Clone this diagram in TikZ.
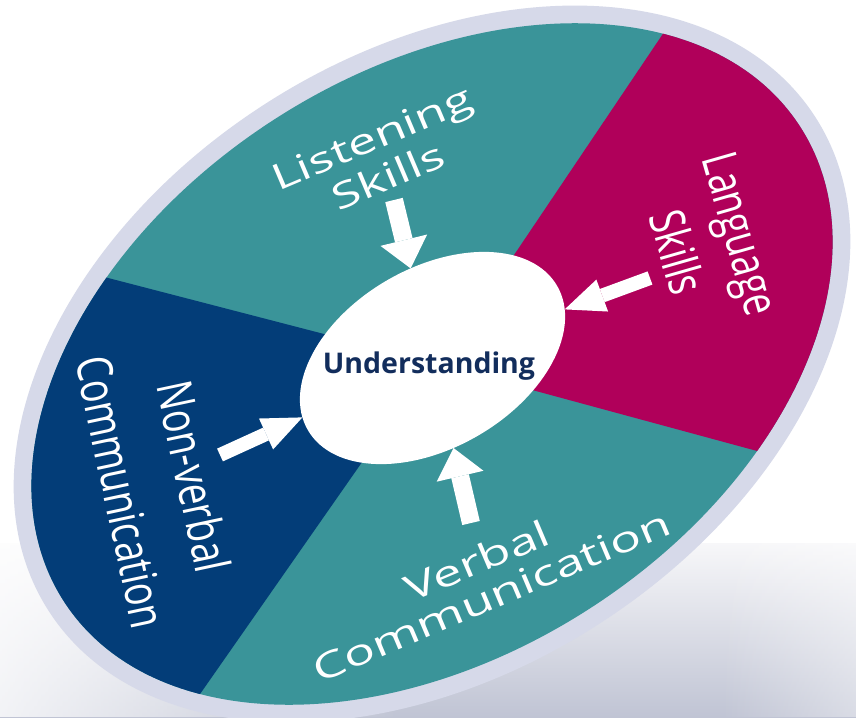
\documentclass[tikz,border=0pt]{standalone}
\usepackage{fontspec}
\setmainfont{Open Sans}
\usetikzlibrary{arrows.meta,shapes.geometric,fadings}

\definecolor{wheelteal}{RGB}{58,148,153}
\definecolor{wheelplum}{RGB}{176,0,90}
\definecolor{wheelnavy}{RGB}{3,61,120}
\definecolor{rimgrey}{RGB}{214,217,233}
\definecolor{inknavy}{RGB}{18,45,92}
\definecolor{bandtop}{RGB}{247,247,249}
\definecolor{bandbottom}{RGB}{192,196,212}

\tikzset{
  sectorlabel/.style={text=white, align=center, inner sep=0pt},
  steeparrow/.style={draw=white, line width=18pt,
    -{Triangle[width=48pt,length=29pt,line width=0pt]}},
  flatarrow/.style={draw=white, line width=14pt,
    -{Triangle[width=34pt,length=40pt,line width=0pt]}},
}

\begin{document}
\begin{tikzpicture}[x=1pt,y=-1pt]
\useasboundingbox (0,0) rectangle (856,717);
\clip (0,0) rectangle (856,717);
\fill[white] (0,0) rectangle (856,717);

% soft floor reflection below the disc
\shade[top color=bandtop, bottom color=bandbottom] (0,543) rectangle (856,717);
\fill[white, path fading=east, fill opacity=0.8] (0,543) rectangle (400,717);
\fill[white, path fading=west, fill opacity=0.4] (720,543) rectangle (856,717);

% outer rim of the disc
\fill[rimgrey, shift={(432,364)}, rotate=32.8] (0,0) ellipse [x radius=456pt, y radius=309pt];

% coloured sectors
\begin{scope}
  \clip[shift={(432,364)}, rotate=32.8] (0,0) ellipse [x radius=438pt, y radius=291pt];
  \fill[wheelteal] (0,0) rectangle (856,717);
  \fill[wheelnavy] (432,362) -- (-100,224) -- (-100,800) -- (126,800) -- cycle;
  \fill[wheelplum] (440,365) -- (753,-100) -- (960,-100) -- (960,506) -- cycle;
\end{scope}

% centre
\node[ellipse, fill=white, minimum width=288pt, minimum height=180pt,
      inner sep=0pt, outer sep=0pt, rotate=30] (centre) at (432.5,358) {};
\node[font=\bfseries\fontsize{28.5}{30}\selectfont, text=inknavy, anchor=base,
      inner sep=0pt] (ulabel) at (429,373) {Understanding};

% labels
\node[sectorlabel, font=\fontsize{36}{42}\selectfont, rotate=23, xscale=1.42]
  (listen) at (380,157) {Listening\\Skills};
\node[sectorlabel, font=\fontsize{36}{38}\selectfont, rotate=23, xscale=1.44]
  (verbal) at (484,578) {Verbal\\Communication};
\node[sectorlabel, font=\fontsize{49}{67}\selectfont, rotate=-74, xscale=0.75]
  (lang) at (709,243) {Language\\Skills};
\node[sectorlabel, font=\fontsize{49}{74}\selectfont, rotate=-78, xscale=0.76]
  (nonverbal) at (158,484) {Non-verbal\\Communication};

% arrows into the centre
\coordinate (ltail) at (394,200);
\coordinate (gtail) at (650,278);
\coordinate (ntail) at (220,455);
\coordinate (vtail) at (471,523);
\draw[steeparrow] (ltail) -- (centre);
\draw[steeparrow] (vtail) -- (centre);
\draw[flatarrow] (gtail) -- (centre);
\draw[flatarrow] (ntail) -- (centre);
\end{tikzpicture}
\end{document}
